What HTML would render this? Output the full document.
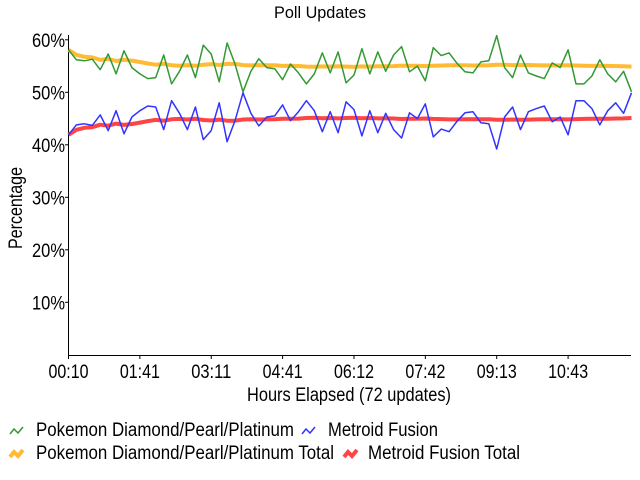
<!DOCTYPE html>
<html><head><meta charset="utf-8"><style>
html,body{margin:0;padding:0;background:#fff;}
svg{display:block;font-family:"Liberation Sans Narrow","Liberation Sans",sans-serif;}
</style></head><body>
<svg id="s" width="640" height="480" xmlns="http://www.w3.org/2000/svg">
<text x="320" y="18" font-size="17" text-anchor="middle" textLength="92" lengthAdjust="spacingAndGlyphs">Poll Updates</text>
<g id="g"></g>
<text transform="translate(22,208) rotate(-90)" font-size="19" text-anchor="middle" textLength="82" lengthAdjust="spacingAndGlyphs">Percentage</text>
<text x="349" y="401" font-size="19" text-anchor="middle" textLength="204" lengthAdjust="spacingAndGlyphs">Hours Elapsed (72 updates)</text>
<path d="M10,434 l4,-5 l4,4 l5,-6" stroke="#339933" stroke-width="1.5" fill="none"/>
<text x="36" y="436" font-size="19" textLength="258" lengthAdjust="spacingAndGlyphs">Pokemon Diamond/Pearl/Platinum</text>
<path d="M302,434 l4,-5 l4,4 l5,-6" stroke="#3333ff" stroke-width="1.5" fill="none"/>
<text x="328" y="436" font-size="19" textLength="110" lengthAdjust="spacingAndGlyphs">Metroid Fusion</text>
<path d="M10,457 l4,-5 l4,4 l5,-6" stroke="#ffbb33" stroke-width="4" fill="none"/>
<text x="36" y="459" font-size="19" textLength="298" lengthAdjust="spacingAndGlyphs">Pokemon Diamond/Pearl/Platinum Total</text>
<path d="M344,457 l4,-5 l4,4 l5,-6" stroke="#ff4444" stroke-width="4" fill="none"/>
<text x="368" y="459" font-size="19" textLength="152" lengthAdjust="spacingAndGlyphs">Metroid Fusion Total</text>
</svg>
<script>
var G=[58.1,56.2,56,56.3,54.3,57.3,53.5,57.9,54.7,53.5,52.6,52.8,57.1,51.6,54,57.1,52.8,59,57.3,52,59.4,55.4,50.1,54,56.4,54.7,54.5,52.4,55.4,53.7,51.6,53.5,57.5,53.7,57.7,51.8,53.3,58.3,53.5,57.7,54,57.1,58.7,53.9,55,52.2,58.5,57,57.5,55.5,53.9,53.7,55.8,56,60.8,54.7,52.8,57.1,53.7,53.1,52.6,55.6,54.7,58.1,51.6,51.6,53.1,56.2,53.5,52,54,50.1];
function X(i){return 68.5+i*7.93;}
function Y(p){return 354.8-5.25*p;}
var h='';
// axes
h+='<path d="M68.5,35 V355.5 H631" stroke="#000" fill="none" stroke-width="1"/>';
for(var k=1;k<=6;k++){var y=Y(k*10);h+='<path d="M65,'+y+' H69" stroke="#000"/>';
h+='<text x="65" y="'+(y+7)+'" font-size="19" text-anchor="end" textLength="33" lengthAdjust="spacingAndGlyphs">'+(k*10)+'%</text>';}
var labs=['00:10','01:41','03:11','04:41','06:12','07:42','09:13','10:43'];
for(var j=0;j<8;j++){var x=X(j*9);h+='<path d="M'+x+',355 V359" stroke="#000"/>';
h+='<text x="'+x+'" y="378" font-size="19" text-anchor="middle" textLength="40" lengthAdjust="spacingAndGlyphs">'+labs[j]+'</text>';}
var s=0,tot=[];for(var i=0;i<G.length;i++){s+=G[i];tot.push(s/(i+1));}
function line(arr,f,col,w){var d='';for(var i=0;i<arr.length;i++){d+=(i?'L':'M')+X(i).toFixed(1)+','+Y(f(arr[i])).toFixed(1);}
return '<path d="'+d+'" stroke="'+col+'" stroke-width="'+w+'" fill="none" stroke-linejoin="round"/>';}
h+=line(tot,function(v){return v},'#ffbb33',4);
h+=line(tot,function(v){return 100-v},'#ff4444',4);
h+=line(G,function(v){return v},'#339933',1.5);
h+=line(G,function(v){return 100-v},'#3333ff',1.5);
document.getElementById('g').innerHTML=h;
</script>
</body></html>
